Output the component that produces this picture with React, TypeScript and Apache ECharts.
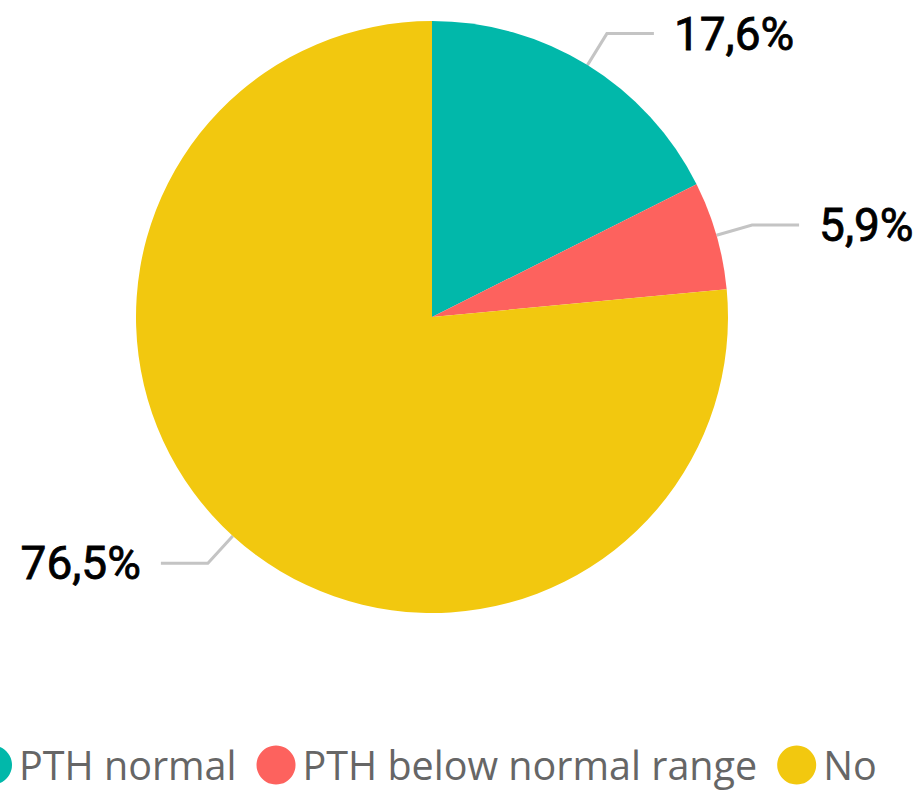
import React, { useEffect, useRef } from "react";
import * as echarts from "echarts";

// PTH status shares (percent)
const categories = ["PTH normal", "PTH below normal range", "No"];
const shares = [17.6, 5.9, 76.5];
const colors = ["#01B8AA", "#FD625E", "#F2C80F"];

export default function App() {
  const ref = useRef<HTMLDivElement>(null);

  useEffect(() => {
    if (!ref.current) return;
    const chart = echarts.init(ref.current, undefined, { renderer: "svg" });
    chart.setOption({
      animation: false,
      backgroundColor: "#ffffff",
      color: colors,
      legend: {
        data: categories,
        orient: "horizontal",
        left: -32,
        top: 740,
        icon: "circle",
        itemWidth: 39,
        itemHeight: 39,
        itemGap: 20,
        textStyle: {
          fontFamily: "Open Sans",
          fontSize: 39.5,
          color: "#666666",
          padding: [0, 0, 0, 2],
        },
      },
      series: [
        {
          type: "pie",
          center: [432, 317],
          radius: [0, 296],
          startAngle: 90,
          clockwise: true,
          data: categories.map((name, i) => ({ name, value: shares[i] })),
          itemStyle: { borderWidth: 0 },
          label: {
            show: true,
            formatter: (p: any) => p.value.toFixed(1).replace(".", ",") + "%",
            fontFamily: "Roboto",
            fontSize: 46,
            color: "#000000",
            textBorderColor: "#000000",
            textBorderWidth: 0.8,
            overflow: "none",
            distanceToLabelLine: 20,
          },
          labelLine: {
            show: true,
            length: 37,
            length2: 47,
            lineStyle: { color: "#c4c4c4", width: 3 },
          },
          emphasis: { disabled: true },
        },
      ],
    });
    return () => chart.dispose();
  }, []);

  return (
    <div
      ref={ref}
      style={{ position: "fixed", left: 0, top: 0, width: 921, height: 795 }}
    />
  );
}
